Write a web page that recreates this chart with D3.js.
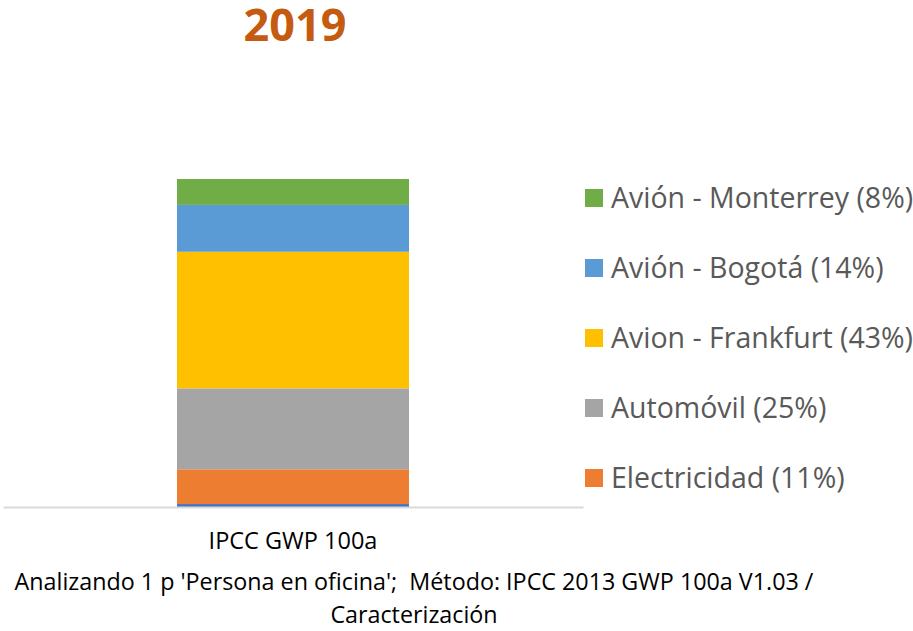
<!DOCTYPE html>
<html>
<head>
<meta charset="utf-8">
<script src="https://cdn.jsdelivr.net/npm/d3@7"></script>
<style>
  body { margin: 0; background: #fff; }
  text { font-family: "Open Sans", sans-serif; }
</style>
</head>
<body>
<div id="grafico"></div>
<script>
// Datos del gráfico (de abajo hacia arriba en la barra)
var categorias = ["IPCC GWP 100a"];
var series = ["Otros", "Electricidad (11%)", "Automóvil (25%)", "Avion - Frankfurt (43%)", "Avión - Bogotá (14%)", "Avión - Monterrey (8%)"];
var valores = [0.9, 10.6, 24.7, 41.7, 14.3, 7.9];
var colores = ["#4472C4", "#ED7D31", "#A5A5A5", "#FFC000", "#5B9BD5", "#70AD47"];
var enLeyenda = [false, true, true, true, true, true];
var titulo = "2019";
var pie = ["Analizando 1 p 'Persona en oficina';  Método: IPCC 2013 GWP 100a V1.03 /", "Caracterización"];

var W = 913, H = 631;
var margin = {top: 179, left: 3, bottom: 124},
    width = 580,
    height = H - margin.top - margin.bottom;

var svg = d3.select("#grafico").append("svg")
    .attr("width", W)
    .attr("height", H);

// Título
svg.append("text")
    .attr("x", 295).attr("y", 41)
    .attr("text-anchor", "middle")
    .style("font-size", "45px")
    .style("font-weight", "bold")
    .style("fill", "#C55A11")
    .text(titulo);

var g = svg.append("g")
    .attr("transform", "translate(" + margin.left + "," + margin.top + ")");

var x = d3.scaleBand().domain(categorias).range([0, width]).padding(0.4286);
var y = d3.scaleLinear().domain([0, d3.sum(valores)]).range([height, 0]);

// Apilamos los valores
var fila = {cat: categorias[0]};
series.forEach(function(s, i) { fila[s] = valores[i]; });
var stack = d3.stack().keys(series)([fila]);

g.selectAll("rect.seg")
  .data(stack)
  .enter().append("rect")
    .attr("class", "seg")
    .attr("x", function(d) { return x(d[0].data.cat); })
    .attr("width", x.bandwidth())
    .attr("y", function(d) { return y(d[0][1]); })
    .attr("height", function(d) { return y(d[0][0]) - y(d[0][1]); })
    .attr("fill", function(d, i) { return colores[i]; });

// Eje X
var ejeX = g.append("g")
    .attr("transform", "translate(0," + height + ")")
    .call(d3.axisBottom(x).tickSize(0).tickPadding(25));
ejeX.select(".domain").attr("stroke", "#D9D9D9").attr("stroke-width", 2);
ejeX.selectAll("text")
    .style("font-size", "23.5px")
    .style("fill", "#000")
    .style("font-family", '"Open Sans", sans-serif');

// Leyenda
var ley = series.map(function(s, i) { return {nombre: s, color: colores[i], ver: enLeyenda[i]}; })
    .filter(function(d) { return d.ver; })
    .reverse();

var item = svg.selectAll("g.ley")
  .data(ley)
  .enter().append("g")
    .attr("class", "ley")
    .attr("transform", function(d, i) { return "translate(585," + (189 + i * 70) + ")"; });

item.append("rect")
    .attr("width", 18).attr("height", 18)
    .attr("fill", function(d) { return d.color; });

item.append("text")
    .attr("x", 26).attr("y", 19)
    .style("font-size", "28.5px")
    .style("fill", "#595959")
    .text(function(d) { return d.nombre; });

// Pie de gráfico
svg.selectAll("text.pie")
  .data(pie)
  .enter().append("text")
    .attr("class", "pie")
    .attr("x", 414)
    .attr("y", function(d, i) { return 590 + i * 33; })
    .attr("text-anchor", "middle")
    .style("font-size", "23.3px")
    .style("white-space", "pre")
    .style("fill", "#000")
    .text(function(d) { return d; });
</script>
</body>
</html>
